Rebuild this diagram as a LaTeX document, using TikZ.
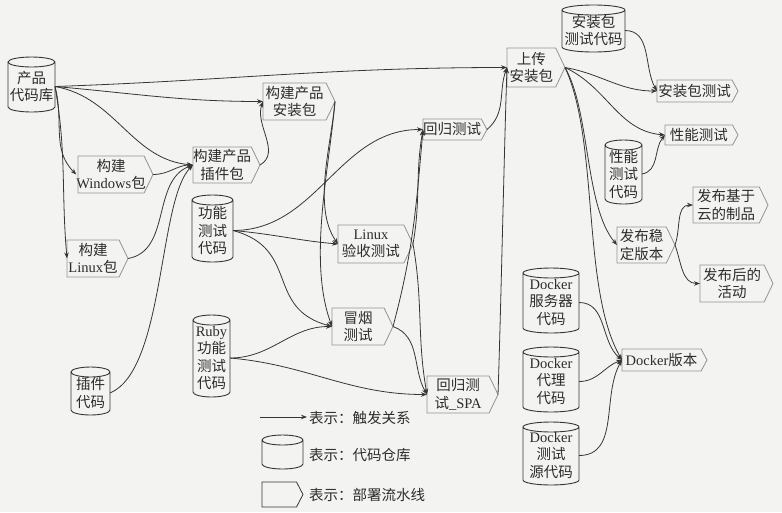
\documentclass[tikz,border=0pt]{standalone}
\usepackage{fontspec}
\setmainfont{Noto Sans CJK SC}
\newfontfamily\lat{Liberation Serif}
\usetikzlibrary{arrows.meta}
\definecolor{bgpaper}{HTML}{F3F3F1}
\definecolor{ink}{HTML}{2C2C2C}
\definecolor{edgegray}{HTML}{363636}
\definecolor{boxgray}{HTML}{939393}

% code repository drawn as a cylinder: name, centre x, centre y, width, height, text
\newcommand\repo[6]{%
  \pgfmathsetmacro\repL{#2-#4/2}%
  \pgfmathsetmacro\repR{#2+#4/2}%
  \pgfmathsetmacro\repA{-(#3-#5/2+5)}%
  \pgfmathsetmacro\repB{-(#3+#5/2-5)}%
  \pgfmathsetmacro\repW{#4/2}%
  \pgfmathsetmacro\repY{-(#3+2)}%
  \draw[repoline] (\repL,\repA) -- (\repL,\repB)
    arc[start angle=180,end angle=360,x radius=\repW pt,y radius=5pt]
    -- (\repR,\repA)
    arc[start angle=0,end angle=180,x radius=\repW pt,y radius=5pt]
    arc[start angle=180,end angle=360,x radius=\repW pt,y radius=5pt];
  \node[repotext, minimum width=#4pt, minimum height=#5pt] (#1) at (#2,\repY) {#6};
}

% deployment pipeline drawn as a chevron box: name, x1, y1, x2, y2, text, border colour
\newcommand\pipe[7]{%
  \pgfmathsetmacro\pipD{0.2*(#5-#3)+1.5}%
  \pgfmathsetmacro\pipM{-(#3+#5)/2}%
  \pgfmathsetmacro\pipX{#4-\pipD}%
  \pgfmathsetmacro\pipC{(#2+\pipX)/2}%
  \pgfmathsetmacro\pipW{\pipX-#2}%
  \pgfmathsetmacro\pipH{#5-#3}%
  \draw[pipeline, draw=#7] (#2,-#3) -- (\pipX,-#3) -- (#4,\pipM) -- (\pipX,-#5) -- (#2,-#5) -- cycle;
  \node[pipetext, minimum width=\pipW pt, minimum height=\pipH pt] (#1) at (\pipC,\pipM) {#6};
  \coordinate (#1-t) at (#4,\pipM);
}

\begin{document}
\begin{tikzpicture}[x=1pt,y=1pt,
  flow/.style={draw=edgegray, line width=0.8pt, -{Stealth[length=6pt,width=4.5pt]}},
  repoline/.style={draw=edgegray, line width=0.9pt},
  pipeline/.style={line width=0.8pt, line join=miter},
  repotext/.style={rectangle, inner sep=0pt, outer sep=0pt, align=center, text=ink,
    font=\fontsize{14.5}{17.5}\selectfont},
  pipetext/.style={repotext},
  legtext/.style={inner sep=0pt, anchor=west, text=ink, font=\fontsize{14.5}{17.5}\selectfont}
]
\useasboundingbox (0,0) rectangle (782,-512);
\fill[bgpaper] (0,0) rectangle (782,-512);

% repositories
\repo{code}{31.5}{84.5}{47}{55}{产品\\代码库}
\repo{func}{212.5}{228.5}{41}{67}{功能\\测试\\代码}
\repo{plugin}{90.5}{391}{39}{48}{插件\\代码}
\repo{ruby}{211.5}{356}{37}{82}{{\lat Ruby}\\功能\\测试\\代码}
\repo{pkgcode}{593.5}{28.5}{63}{47}{安装包\\测试代码}
\repo{perfcode}{623.5}{172}{37}{64}{性能\\测试\\代码}
\repo{dserver}{551}{300.5}{56}{65}{{\lat Docker}\\服务器\\代码}
\repo{dproxy}{551}{379.5}{56}{65}{{\lat Docker}\\代理\\代码}
\repo{dtest}{551}{453.5}{56}{63}{{\lat Docker}\\测试\\源代码}

% pipelines
\pipe{win}{78}{156}{153}{193}{构建\\{\lat Windows}包}{boxgray}
\pipe{plugpkg}{193}{147}{260}{183}{构建产品\\插件包}{boxgray}
\pipe{instpkg}{263}{83}{335}{120}{构建产品\\安装包}{boxgray}
\pipe{linux}{67}{240}{128}{277}{构建\\{\lat Linux}包}{boxgray}
\pipe{accept}{338}{225}{413}{263}{{\lat Linux}\\验收测试}{boxgray}
\pipe{smoke}{332}{308}{393}{345}{冒烟\\测试}{boxgray}
\pipe{reg}{423}{119}{487}{140}{回归测试}{boxgray}
\pipe{spa}{427}{376}{498}{413}{回归测\\试{\lat \_SPA}}{boxgray}
\pipe{upload}{507}{48}{565}{87}{上传\\安装包}{boxgray}
\pipe{pkgtest}{657}{80}{738}{102}{安装包测试}{boxgray}
\pipe{perf}{665}{125}{738}{145}{性能测试}{boxgray}
\pipe{cloud}{693}{187}{768}{223}{发布基于\\云的制品}{boxgray}
\pipe{stable}{617}{227}{675}{263}{发布稳\\定版本}{boxgray}
\pipe{post}{700}{265}{773}{302}{发布后的\\活动}{boxgray}
\pipe{docker}{622}{349}{707}{371}{{\lat Docker}版本}{boxgray}

% triggers from the product code base
\draw[flow] (code.east) to[out=2,in=180] (upload.west);
\draw[flow] (code.east) to[out=-5,in=180] (instpkg.west);
\draw[flow] (code.east) to[out=-10,in=175] (plugpkg.west);
\draw[flow] (code.east) to[out=-75,in=135] (win.west);
\draw[flow] (code.east) to[out=-80,in=95] (linux.west);

% plugin package build
\draw[flow] (win-t) to[out=0,in=180] (plugpkg.west);
\draw[flow] (linux-t) to[out=10,in=200] (plugpkg.west);
\draw[flow] (plugin.east) .. controls +(55,23) and +(-35,-35) .. (plugpkg.west);
\draw[flow] (plugpkg-t) to[out=30,in=-110] (instpkg.west);

% acceptance and smoke tests
\draw[flow] (instpkg-t) to[out=-95,in=125,looseness=0.8] (accept.west);
\draw[flow] (instpkg-t) to[out=-95,in=110,looseness=0.8] (smoke.west);
\draw[flow] (func.east) to[out=0,in=180] (reg.west);
\draw[flow] (func.east) to[out=-5,in=175] (accept.west);
\draw[flow] (func.east) to[out=-15,in=165,looseness=1.3] (smoke.west);
\draw[flow] (ruby.east) to[out=0,in=180] (smoke.west);
\draw[flow] (ruby.east) to[out=-5,in=180] (spa.west);

% regression tests
\draw[flow] (accept-t) to[out=80,in=-100] (reg.west);
\draw[flow] (smoke-t) to[out=75,in=-95] (reg.west);
\draw[flow] (accept-t) to[out=-80,in=100] (spa.west);
\draw[flow] (smoke-t) to[out=-20,in=120] (spa.west);

% upload of the installer
\draw[flow] (reg-t) to[out=40,in=-110] (upload.west);
\draw[flow] (spa-t) to[out=88,in=-92,looseness=0.6] (upload.west);

% downstream of the upload
\draw[flow] (upload-t) to[out=-10,in=180] (pkgtest.west);
\draw[flow] (upload-t) to[out=-25,in=175] (perf.west);
\draw[flow] (upload-t) to[out=-60,in=130,looseness=0.7] (stable.west);
\draw[flow] (upload-t) to[out=-65,in=120,looseness=0.7] (docker.west);
\draw[flow] (pkgcode.east) to[out=0,in=120] (pkgtest.west);
\draw[flow] (perfcode.east) to[out=10,in=-130] (perf.west);
\draw[flow] (stable-t) to[out=70,in=180] (cloud.west);
\draw[flow] (stable-t) to[out=-70,in=180] (post.west);
\draw[flow] (dserver.east) to[out=0,in=140] (docker.west);
\draw[flow] (dproxy.east) to[out=0,in=200] (docker.west);
\draw[flow] (dtest.east) to[out=0,in=-120] (docker.west);

% legend
\coordinate (lega) at (260,-417);
\coordinate (legb) at (307,-417);
\draw[flow] (lega) -- (legb);
\node[legtext] (leg1) at (309,-418) {表示：触发关系};
\repo{legc}{282.5}{452}{41}{34}{}
\node[legtext] (leg2) at (309,-455) {表示：代码仓库};
\pipe{legp}{262}{482}{303}{507}{}{edgegray}
\node[legtext] (leg3) at (309,-495) {表示：部署流水线};
\end{tikzpicture}
\end{document}
